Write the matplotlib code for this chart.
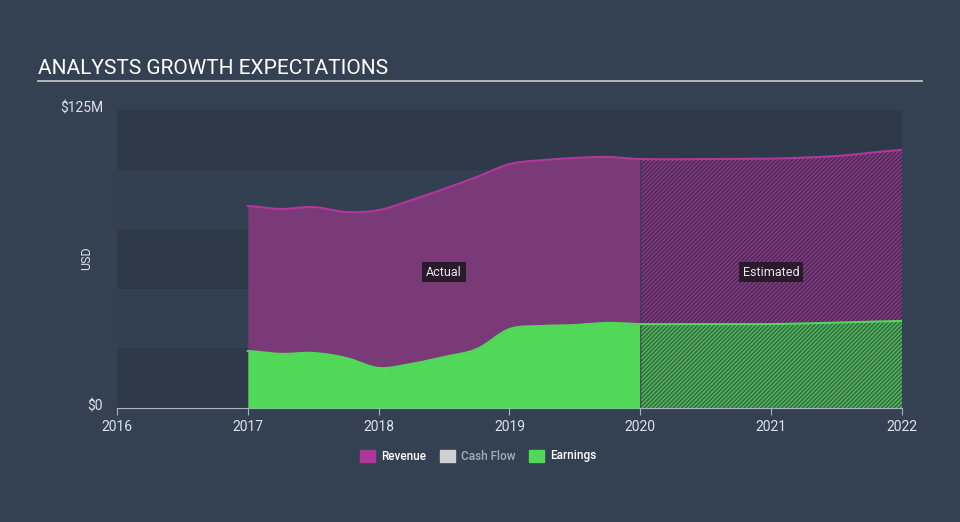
import numpy as np
import matplotlib.pyplot as plt
from matplotlib.patches import Rectangle

plt.rcParams['font.family'] = ['Roboto', 'DejaVu Sans']
plt.rcParams['hatch.linewidth'] = 1.0

# values, in $M
years = [2017.0, 2017.25, 2017.5, 2017.75, 2018.0, 2018.25, 2018.5, 2018.75,
         2019.0, 2019.25, 2019.5, 2019.75, 2020.0, 2020.5, 2021.0, 2021.5, 2022.0]
revenue = [84.7, 83.5, 84.3, 82.2, 83.0, 87.2, 91.9, 96.9,
           102.3, 104.0, 104.9, 105.3, 104.4, 104.4, 104.6, 105.7, 108.2]
earnings = [23.9, 22.7, 23.1, 21.0, 16.8, 18.5, 21.4, 24.7,
            33.1, 34.4, 34.8, 35.7, 35.2, 35.2, 35.2, 35.8, 36.5]
xticks = [2016, 2017, 2018, 2019, 2020, 2021, 2022]
split_year = 2020.0

bg = '#344152'
rev_line = '#b2379c'
rev_fill = '#7a3a78'
earn_col = '#52d858'

# smooth curve through the read points
def smooth(x, y, n=400):
    x = np.array(x)
    y = np.array(y)
    xs = np.linspace(x[0], x[-1], n)
    # catmull-rom style via cubic on each segment
    ys = np.empty_like(xs)
    for i, xv in enumerate(xs):
        k = min(np.searchsorted(x, xv, side='right') - 1, len(x) - 2)
        p0 = y[max(k - 1, 0)]
        p1 = y[k]
        p2 = y[k + 1]
        p3 = y[min(k + 2, len(y) - 1)]
        t = (xv - x[k]) / (x[k + 1] - x[k])
        ys[i] = 0.5 * ((2 * p1) + (-p0 + p2) * t + (2 * p0 - 5 * p1 + 4 * p2 - p3) * t ** 2
                       + (-p0 + 3 * p1 - 3 * p2 + p3) * t ** 3)
    return xs, ys

fig = plt.figure(figsize=(9.6, 5.22), dpi=100, facecolor=bg)
ax = fig.add_axes([117 / 960, 1 - 408 / 522, 785 / 960, 298 / 522])
ax.set_facecolor(bg)

# background bands
band_cols = ['#2e3a4a', '#334051']
for i in range(5):
    ax.axhspan(i * 25, (i + 1) * 25, color=band_cols[i % 2], lw=0, zorder=0)

xr, yr = smooth(years, revenue)
xe, ye = smooth(years, earnings)
act = xr <= split_year + 0.003
est = xr >= split_year

ax.fill_between(xr[act], 0, yr[act], color=rev_fill, lw=0, zorder=1)
ax.fill_between(xr[est], 0, yr[est], facecolor='#4a2d53', edgecolor='#8a3888',
                hatch='////////', lw=0, zorder=1)
ax.plot(xr, yr, color=rev_line, lw=1.5, zorder=2)

ax.fill_between(xe[act], 0, ye[act], color=earn_col, lw=0, zorder=3)
ax.fill_between(xe[est], 0, ye[est], facecolor='#3a6648', edgecolor='#4cbf55',
                hatch='////////', lw=0, zorder=3)
ax.plot(xe, ye, color=earn_col, lw=1.5, zorder=4)

ax.set_xlim(2016, 2022)
ax.set_ylim(0, 125)
for s in ['top', 'right', 'left']:
    ax.spines[s].set_visible(False)
ax.spines['bottom'].set_color('#aab4c0')
ax.set_xticks(xticks)
ax.set_xticklabels([str(x) for x in xticks])
ax.tick_params(axis='x', colors='#aab4c0', labelcolor='#dde2e8', labelsize=10, length=5)
ax.set_yticks([])

fig.text(103 / 960, 1 - 108 / 522, '$125M', color='#dde2e8', fontsize=10, va='center', ha='right')
fig.text(103 / 960, 1 - 407 / 522, '$0', color='#dde2e8', fontsize=10, va='center', ha='right')
fig.text(87 / 960, 1 - 258 / 522, 'USD', color='#dde2e8', fontsize=9, rotation=90, va='center', ha='center')

box = dict(boxstyle='square,pad=0.3', facecolor='#2a1b2c', edgecolor='none')
ax.text(2018.5, 57, 'Actual', color='#e6e6e6', fontsize=9, ha='center', va='center', bbox=box, zorder=6)
ax.text(2021.0, 57, 'Estimated', color='#e6e6e6', fontsize=9, ha='center', va='center', bbox=box, zorder=6)

fig.text(38 / 960, 1 - 68 / 522, 'ANALYSTS GROWTH EXPECTATIONS', color='white', fontsize=15, va='center')
fig.add_artist(plt.Line2D([38 / 960, 922 / 960], [1 - 81 / 522, 1 - 81 / 522], color='#c8cdd3', lw=1.2))

legend_items = [('Revenue', rev_line, 360, 'white'), ('Cash Flow', '#d0d0d0', 440, '#a5adb8'),
                ('Earnings', earn_col, 529, 'white')]
for name, col, xpx, tcol in legend_items:
    fig.add_artist(Rectangle((xpx / 960, 1 - 462 / 522), 15 / 960, 12 / 522, color=col, transform=fig.transFigure))
    fig.text((xpx + 21) / 960, 1 - 456 / 522, name, color=tcol, fontsize=8.5, va='center', fontweight='medium')

fig.savefig('out.png', dpi=100, facecolor=bg)
